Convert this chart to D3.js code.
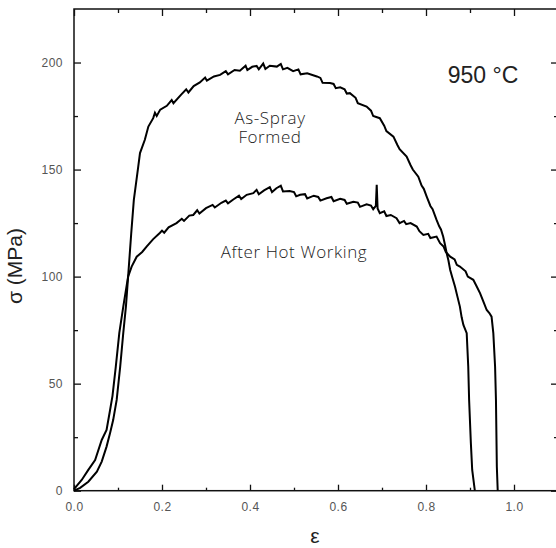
<!DOCTYPE html>
<html>
<head>
<meta charset="utf-8">
<script src="https://cdn.jsdelivr.net/npm/d3@7.9.0/dist/d3.min.js"></script>
<style>
  body { margin: 0; background: #fff; }
  svg { display: block; }
  .tick text { font-family: "Liberation Sans", Arial, sans-serif; font-size: 12px; fill: #555; letter-spacing: 0.5px; }
  .domain { display: none; }
  .note { font-family: "Open Sans", "Noto Sans", sans-serif; font-weight: 300; font-size: 17px; letter-spacing: 0.6px; fill: #222; }
</style>
</head>
<body>
<svg id="chart" width="556" height="548"></svg>
<script>
// As-Spray Formed curve: strain, stress (MPa)
const asSprayStrain = [0, 0.014, 0.0325, 0.052, 0.063, 0.074, 0.082, 0.089, 0.097, 0.105, 0.112, 0.118, 0.123, 0.13, 0.136,
  0.146, 0.15, 0.161, 0.169, 0.18, 0.184, 0.188, 0.196, 0.211, 0.222, 0.226, 0.243, 0.255, 0.26, 0.272, 0.286, 0.298, 0.302,
  0.318, 0.332, 0.345, 0.35, 0.365, 0.377, 0.39, 0.394, 0.405, 0.415, 0.42, 0.43, 0.435, 0.445, 0.461, 0.47, 0.475, 0.485,
  0.498, 0.51, 0.515, 0.53, 0.552, 0.56, 0.565, 0.582, 0.59, 0.595, 0.605, 0.615, 0.62, 0.627, 0.64, 0.645, 0.665, 0.675,
  0.68, 0.695, 0.705, 0.71, 0.726, 0.735, 0.74, 0.756, 0.765, 0.77, 0.7825, 0.79, 0.795, 0.8016, 0.81, 0.815, 0.824, 0.83,
  0.834, 0.839, 0.843, 0.847, 0.851, 0.855, 0.86, 0.866, 0.871, 0.877, 0.881, 0.885, 0.8925, 0.896, 0.898, 0.902, 0.905, 0.911];
const asSprayStress = [0, 1.3, 4.2, 8.9, 13.6, 20.6, 27, 33, 42.4, 58, 73.7, 86, 100, 120, 135.8,
  151.4, 157.7, 163.9, 170.1, 174, 176.5, 175, 178, 179.8, 182.5, 181, 184.9, 187.5, 186, 189, 190.7, 193, 191.5,
  193.5, 194.2, 196, 194.5, 196.5, 196.2, 198.5, 196.5, 198, 198.4, 196.8, 199.5, 197, 198.5, 198.1, 199.3, 196.8, 197.5,
  196, 196.8, 194.5, 195, 193.5, 192.8, 190.5, 190.4, 190, 188, 188.4, 187.5, 185.5, 185.7, 183.5, 181, 179.4, 177.5,
  175, 174, 170.5, 168, 165.4, 161.5, 159.5, 156.1, 152, 150, 146.7, 142.5, 141, 137.4, 133, 131.5, 126.5, 123.5,
  122, 118.7, 115, 110.9, 107.5, 103.1, 99.5, 95.3, 91, 86, 81, 77.4, 73.6, 58, 42.4, 22.1, 9.7, 0];

// After Hot Working curve
const hotWorkStrain = [0, 0.0175, 0.0325, 0.048, 0.063, 0.074, 0.082, 0.0875, 0.095, 0.103, 0.112, 0.123, 0.131, 0.1425,
  0.155, 0.165, 0.18, 0.195, 0.2, 0.205, 0.215, 0.233, 0.245, 0.25, 0.262, 0.271, 0.28, 0.285, 0.3, 0.315, 0.32, 0.335,
  0.345, 0.35, 0.362, 0.375, 0.38, 0.3925, 0.4075, 0.415, 0.42, 0.432, 0.445, 0.45, 0.46, 0.47, 0.475, 0.49, 0.5, 0.505,
  0.514, 0.525, 0.53, 0.545, 0.555, 0.56, 0.574, 0.585, 0.59, 0.605, 0.615, 0.62, 0.635, 0.645, 0.65, 0.665, 0.675, 0.68,
  0.686, 0.688, 0.69, 0.695, 0.705, 0.71, 0.72, 0.733, 0.74, 0.75, 0.755, 0.765, 0.779, 0.785, 0.794, 0.805, 0.81, 0.824,
  0.832, 0.84, 0.845, 0.855, 0.865, 0.87, 0.877, 0.89, 0.895, 0.9075, 0.915, 0.923, 0.93, 0.938, 0.944, 0.949, 0.953,
  0.957, 0.959, 0.961, 0.963];
const hotWorkStress = [0.7, 5, 9.7, 14.3, 23.7, 28.4, 37.7, 44.3, 58, 73.7, 86, 100, 104.7, 109.3,
  111.5, 114, 117.5, 120.4, 121.5, 120.5, 123, 125, 127, 126, 128.5, 128.8, 131, 129.5, 132, 133.5, 132.3, 134.5,
  135.5, 134.2, 136, 137.8, 136.2, 138.2, 139, 140.5, 138.5, 140.3, 141.8, 139.5, 141.3, 142.5, 139.8, 140, 139.5, 137.5,
  138.2, 138.5, 136.5, 137.8, 137.2, 135.5, 136.6, 137.2, 135.2, 136.3, 135.8, 134, 135, 134.6, 132.6, 133.8, 133.2, 131.5,
  133, 142.9, 131.8, 129.6, 130.5, 128.3, 128.8, 127.3, 125, 126, 124.5, 125, 123.4, 121.2, 119.5, 120, 118, 118.7,
  115.6, 114, 111.5, 109.3, 108, 105.5, 104.7, 102.5, 100, 98.5, 95.5, 92.2, 88.5, 84.4, 83, 81.3, 73.6,
  58, 42.4, 11.2, 0];

const xMajor = [0, 0.2, 0.4, 0.6, 0.8, 1.0];
const xMinor = [0.1, 0.3, 0.5, 0.7, 0.9];
const yMajor = [0, 50, 100, 150, 200];
const yMinor = [25, 75, 125, 175];

const svg = d3.select('#chart');
const mLeft = 74, mRight = 558, mTop = 9, mBottom = 490.7;

const x = d3.scaleLinear().domain([0, 1.1]).range([mLeft, mRight]);
const y = d3.scaleLinear().domain([0, 225]).range([mBottom, mTop]);

// frame
svg.append('rect')
  .attr('x', mLeft).attr('y', mTop)
  .attr('width', mRight - mLeft).attr('height', mBottom - mTop)
  .attr('fill', 'none').attr('stroke', '#111').attr('stroke-width', 1.5);

function styleTicks(g) {
  g.selectAll('.tick line').attr('stroke', '#111').attr('stroke-width', 1.3);
}

// bottom axis
svg.append('g').attr('transform', `translate(0,${mBottom})`)
  .call(d3.axisBottom(x).tickValues(xMajor).tickFormat(d3.format('.1f')).tickSize(-6).tickPadding(12))
  .call(styleTicks);
svg.append('g').attr('transform', `translate(0,${mBottom})`)
  .call(d3.axisBottom(x).tickValues(xMinor).tickFormat('').tickSize(-3))
  .call(styleTicks);
// top axis
svg.append('g').attr('transform', `translate(0,${mTop})`)
  .call(d3.axisTop(x).tickValues(xMajor).tickFormat('').tickSize(-7))
  .call(styleTicks);
svg.append('g').attr('transform', `translate(0,${mTop})`)
  .call(d3.axisTop(x).tickValues(xMinor).tickFormat('').tickSize(-4))
  .call(styleTicks);
// left axis
svg.append('g').attr('transform', `translate(${mLeft},0)`)
  .call(d3.axisLeft(y).tickValues(yMajor).tickSize(-7).tickPadding(11))
  .call(styleTicks);
svg.append('g').attr('transform', `translate(${mLeft},0)`)
  .call(d3.axisLeft(y).tickValues(yMinor).tickFormat('').tickSize(-4))
  .call(styleTicks);
// right axis
svg.append('g').attr('transform', `translate(${mRight},0)`)
  .call(d3.axisRight(y).tickValues(yMajor).tickFormat('').tickSize(-7))
  .call(styleTicks);
svg.append('g').attr('transform', `translate(${mRight},0)`)
  .call(d3.axisRight(y).tickValues(yMinor).tickFormat('').tickSize(-4))
  .call(styleTicks);

// curves
const line = d3.line().x(d => x(d[0])).y(d => y(d[1]));
const asSpray = asSprayStrain.map((e, i) => [e, asSprayStress[i]]);
const hotWork = hotWorkStrain.map((e, i) => [e, hotWorkStress[i]]);
[asSpray, hotWork].forEach(data => {
  svg.append('path').datum(data)
    .attr('d', line)
    .attr('fill', 'none').attr('stroke', '#000')
    .attr('stroke-width', 2).attr('stroke-linejoin', 'miter');
});

// labels
svg.append('text')
  .attr('transform', 'translate(22,266) rotate(-90)')
  .attr('text-anchor', 'middle')
  .style('font-family', '"Liberation Sans", Arial, sans-serif').style('font-size', '21px').style('fill', '#222')
  .text('σ (MPa)');
svg.append('text')
  .attr('x', 315).attr('y', 543)
  .attr('text-anchor', 'middle')
  .style('font-family', '"Liberation Sans", Arial, sans-serif').style('font-size', '21px').style('fill', '#222')
  .text('ε');
svg.append('text')
  .attr('x', 483).attr('y', 83)
  .attr('text-anchor', 'middle')
  .style('font-family', '"Liberation Sans", Arial, sans-serif').style('font-size', '23px').style('fill', '#222')
  .text('950 °C');

svg.append('text').attr('class', 'note').attr('x', 270).attr('y', 124).attr('text-anchor', 'middle').text('As-Spray');
svg.append('text').attr('class', 'note').attr('x', 270).attr('y', 143).attr('text-anchor', 'middle').text('Formed');
svg.append('text').attr('class', 'note').attr('x', 294).attr('y', 258).attr('text-anchor', 'middle').text('After Hot Working');
</script>
</body>
</html>
